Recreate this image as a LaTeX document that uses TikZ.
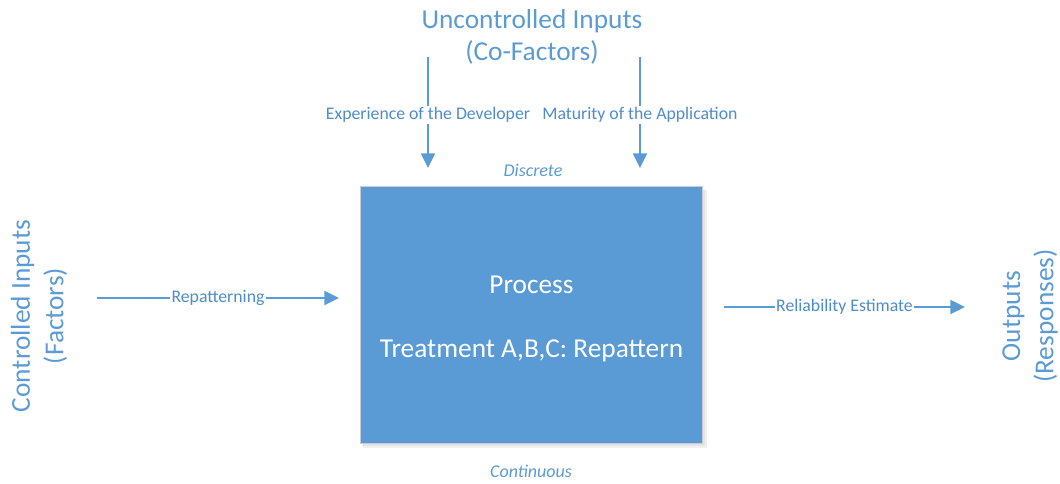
\documentclass[tikz,border=0pt]{standalone}
\usepackage{fontspec}
\setmainfont{Carlito}
\usetikzlibrary{arrows.meta}
\definecolor{accent}{HTML}{5B9BD5}
\definecolor{labelblue}{HTML}{4F8CCB}
\definecolor{boxedge}{HTML}{C8CCD2}
\begin{document}
\begin{tikzpicture}[x=0.75pt,y=-0.75pt,
  bigtext/.style={text=accent,font=\fontsize{20.5}{24.5}\selectfont,align=center,inner sep=0pt},
  sidetext/.style={text=accent,font=\fontsize{20.5}{25}\selectfont,align=center,inner sep=0pt},
  lbl/.style={text=labelblue,font=\fontsize{13.3}{15}\selectfont,fill=white,inner sep=1pt},
  note/.style={text=accent,font=\fontsize{13.5}{16}\selectfont\itshape,inner sep=0pt},
  conn/.style={draw=accent,line width=1.3pt,-{Triangle[length=11pt,width=10.5pt]}},
  procbox/.style={fill=accent,draw=boxedge,line width=0.6pt,minimum width=257pt,minimum height=193pt,inner sep=0pt},
  proctext/.style={text=white,font=\fontsize{20.5}{24}\selectfont,align=center,inner sep=0pt}]
\useasboundingbox (0,0) rectangle (1060,483);

% soft shadow under the process box
\fill[black,opacity=0.06] (363,190) rectangle (707,448);
\fill[black,opacity=0.05] (362,189) rectangle (705,446);

% process box and its text
\node[procbox] (proc) at (531.5,315) {};
\node[proctext] (ptext) at (531.5,319) {Process\\[24pt]Treatment A,B,C: Repattern};

% uncontrolled inputs
\node[bigtext] (unc) at (532,37) {Uncontrolled Inputs\\(Co-Factors)};
\coordinate (expS) at (428,57);
\coordinate (expE) at (428,168);
\coordinate (matS) at (640,57);
\coordinate (matE) at (640,168);
\draw[conn] (expS) -- node[lbl,pos=0.52] {Experience of the Developer} (expE);
\draw[conn] (matS) -- node[lbl,pos=0.52] {Maturity of the Application} (matE);

\node[note] (disc) at (533,170) {Discrete};
\node[note] (cont) at (531,471) {Continuous};

% controlled inputs
\node[sidetext,rotate=90] (ctl) at (39,316) {Controlled Inputs\\(Factors)};
\coordinate (repS) at (97,298);
\coordinate (repE) at (339,298);
\draw[conn] (repS) -- node[lbl,pos=0.5] {Repatterning} (repE);

% outputs
\node[sidetext,rotate=90] (out) at (1030,316) {Outputs\\(Responses)};
\coordinate (relS) at (724,307);
\coordinate (relE) at (965,307);
\draw[conn] (relS) -- node[lbl,pos=0.5] {Reliability Estimate} (relE);
\end{tikzpicture}
\end{document}
